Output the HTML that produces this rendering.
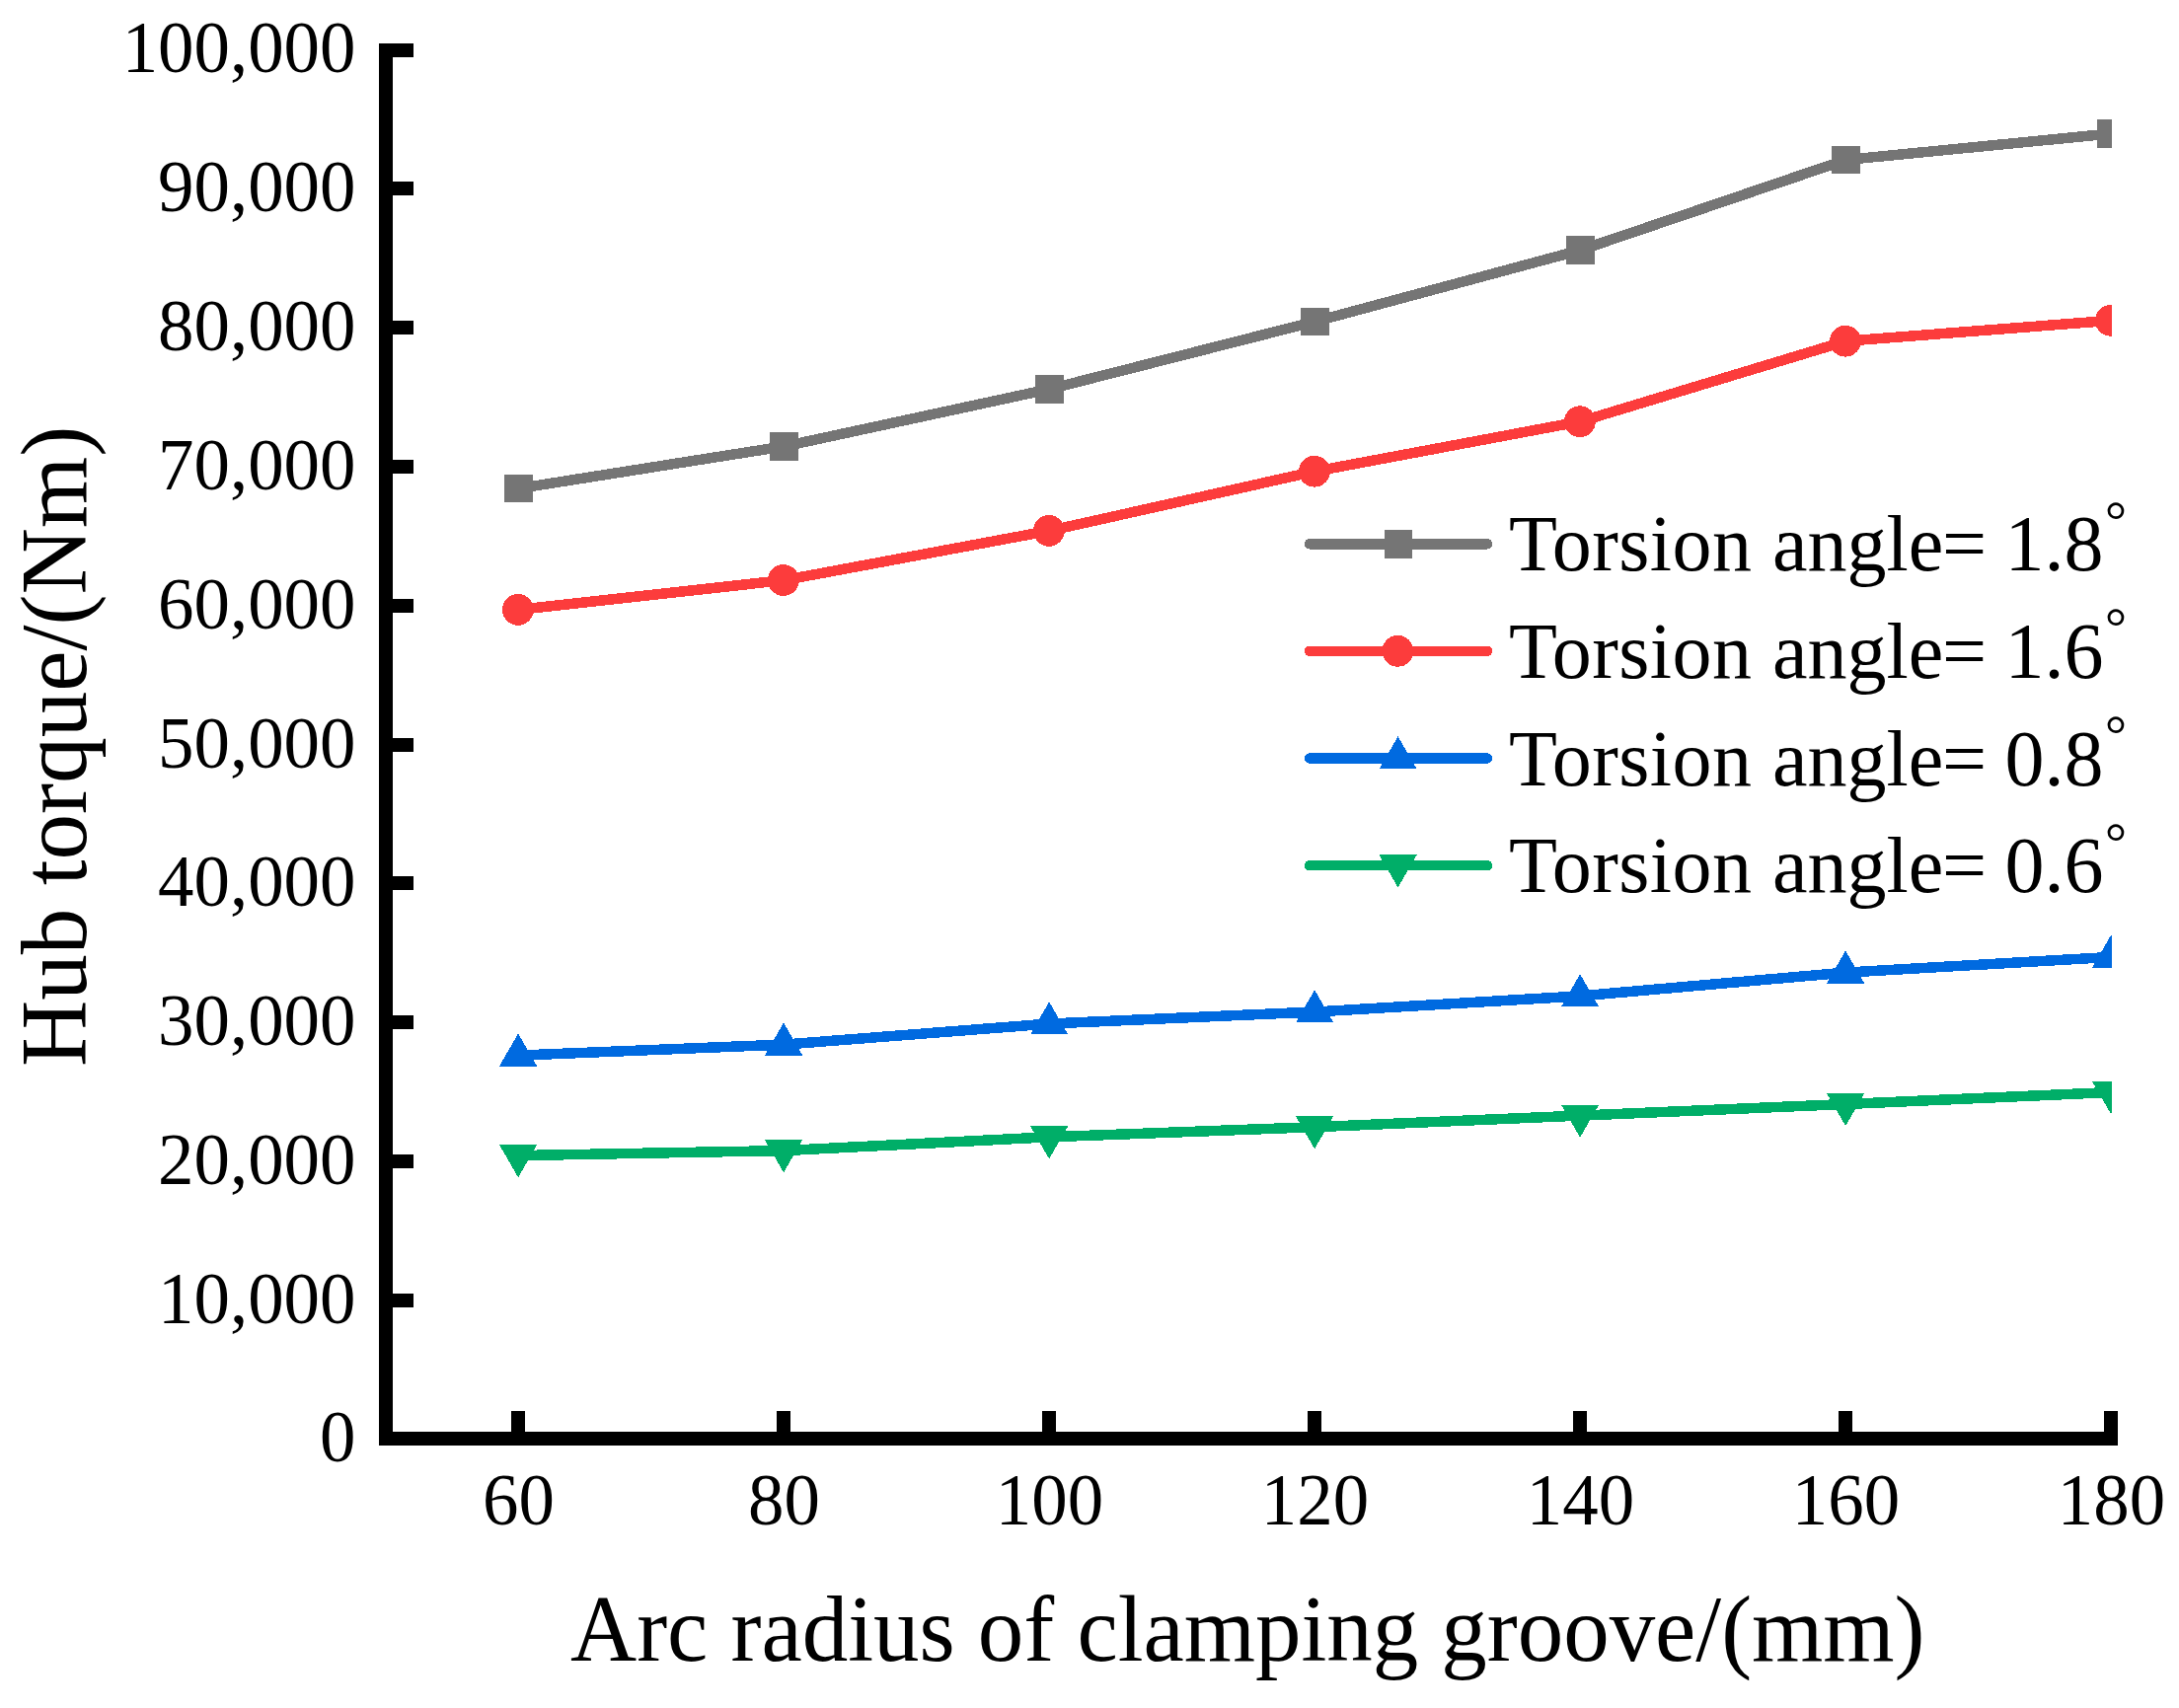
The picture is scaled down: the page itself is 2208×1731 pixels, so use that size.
<!DOCTYPE html>
<html lang="en"><head><meta charset="utf-8"><title>Hub torque vs arc radius of clamping groove</title>
<style>html,body{margin:0;padding:0;background:#fff}svg{display:block}text{font-family:"Liberation Serif","Times New Roman",serif;fill:#000}</style></head><body>
<svg width="2208" height="1731" viewBox="0 0 2208 1731">
<rect width="2208" height="1731" fill="#fff"/>
<defs><clipPath id="plot"><rect x="391" y="44" width="1749" height="1414"/></clipPath></defs>
<g fill="#000" shape-rendering="crispEdges">
<rect x="384" y="44" width="14" height="1421"/>
<rect x="384" y="1451" width="1762" height="14"/>
<rect x="391" y="1311" width="28" height="14"/>
<rect x="391" y="1170" width="28" height="14"/>
<rect x="391" y="1029" width="28" height="14"/>
<rect x="391" y="888" width="28" height="14"/>
<rect x="391" y="748" width="28" height="14"/>
<rect x="391" y="607" width="28" height="14"/>
<rect x="391" y="466" width="28" height="14"/>
<rect x="391" y="325" width="28" height="14"/>
<rect x="391" y="184" width="28" height="14"/>
<rect x="391" y="44" width="28" height="14"/>
<rect x="518" y="1430" width="14" height="28"/>
<rect x="787" y="1430" width="14" height="28"/>
<rect x="1056" y="1430" width="14" height="28"/>
<rect x="1325" y="1430" width="14" height="28"/>
<rect x="1594" y="1430" width="14" height="28"/>
<rect x="1863" y="1430" width="14" height="28"/>
<rect x="2132" y="1430" width="14" height="28"/>
</g>
<g font-size="74" text-anchor="end">
<text transform="translate(360.5,1480.5) scale(0.985,1)">0</text>
<text transform="translate(360.5,1340.5) scale(0.985,1)">10,000</text>
<text transform="translate(360.5,1199.5) scale(0.985,1)">20,000</text>
<text transform="translate(360.5,1058.5) scale(0.985,1)">30,000</text>
<text transform="translate(360.5,917.5) scale(0.985,1)">40,000</text>
<text transform="translate(360.5,777.5) scale(0.985,1)">50,000</text>
<text transform="translate(360.5,636.5) scale(0.985,1)">60,000</text>
<text transform="translate(360.5,495.5) scale(0.985,1)">70,000</text>
<text transform="translate(360.5,354.5) scale(0.985,1)">80,000</text>
<text transform="translate(360.5,213.5) scale(0.985,1)">90,000</text>
<text transform="translate(360.5,73.0) scale(0.985,1)">100,000</text>
</g>
<g font-size="74" text-anchor="middle">
<text transform="translate(525.5,1544.5) scale(0.985,1)">60</text>
<text transform="translate(794.5,1544.5) scale(0.985,1)">80</text>
<text transform="translate(1063.5,1544.5) scale(0.985,1)">100</text>
<text transform="translate(1332.5,1544.5) scale(0.985,1)">120</text>
<text transform="translate(1601.5,1544.5) scale(0.985,1)">140</text>
<text transform="translate(1870.5,1544.5) scale(0.985,1)">160</text>
<text transform="translate(2139.5,1544.5) scale(0.985,1)">180</text>
</g>
<text transform="translate(1264.3,1683) scale(0.978,1)" font-size="95" text-anchor="middle">Arc radius of clamping groove/(mm)</text>
<text transform="translate(86.6,756.4) rotate(-90) scale(0.9806,1)" font-size="95" text-anchor="middle">Hub torque/(Nm)</text>
<g clip-path="url(#plot)" shape-rendering="crispEdges">
<polyline points="525.5,495.0 794.5,452.4 1063.5,394.3 1332.5,325.9 1601.5,253.5 1870.5,162.0 2139.5,135.4" fill="none" stroke="#757575" stroke-width="10.5" stroke-linejoin="round"/>
<rect x="511.2" y="480.7" width="28.6" height="28.6" fill="#757575"/>
<rect x="780.2" y="438.1" width="28.6" height="28.6" fill="#757575"/>
<rect x="1049.2" y="380.0" width="28.6" height="28.6" fill="#757575"/>
<rect x="1318.2" y="311.6" width="28.6" height="28.6" fill="#757575"/>
<rect x="1587.2" y="239.2" width="28.6" height="28.6" fill="#757575"/>
<rect x="1856.2" y="147.7" width="28.6" height="28.6" fill="#757575"/>
<rect x="2125.2" y="121.1" width="28.6" height="28.6" fill="#757575"/>
<polyline points="525.5,617.9 794.5,588.0 1063.5,537.9 1332.5,477.7 1601.5,427.2 1870.5,345.7 2139.5,324.8" fill="none" stroke="#fc3c3c" stroke-width="10.5" stroke-linejoin="round"/>
<circle cx="524.9" cy="617.9" r="15.9" fill="#fc3c3c"/>
<circle cx="793.9" cy="588.0" r="15.9" fill="#fc3c3c"/>
<circle cx="1062.9" cy="537.9" r="15.9" fill="#fc3c3c"/>
<circle cx="1331.9" cy="477.7" r="15.9" fill="#fc3c3c"/>
<circle cx="1600.9" cy="427.2" r="15.9" fill="#fc3c3c"/>
<circle cx="1869.9" cy="345.7" r="15.9" fill="#fc3c3c"/>
<circle cx="2138.9" cy="324.8" r="15.9" fill="#fc3c3c"/>
<polyline points="525.5,1069.6 794.5,1058.6 1063.5,1037.5 1332.5,1025.5 1601.5,1009.4 1870.5,985.6 2139.5,969.9" fill="none" stroke="#006ae0" stroke-width="10.5" stroke-linejoin="round"/>
<polygon points="525.1,1047.4 544.2,1080.5 506.0,1080.5" fill="#006ae0"/>
<polygon points="794.1,1036.4 813.2,1069.5 775.0,1069.5" fill="#006ae0"/>
<polygon points="1063.1,1015.3 1082.2,1048.4 1044.0,1048.4" fill="#006ae0"/>
<polygon points="1332.1,1003.3 1351.2,1036.4 1313.0,1036.4" fill="#006ae0"/>
<polygon points="1601.1,987.2 1620.2,1020.3 1582.0,1020.3" fill="#006ae0"/>
<polygon points="1870.1,963.4 1889.2,996.5 1851.0,996.5" fill="#006ae0"/>
<polygon points="2139.1,947.7 2158.2,980.8 2120.0,980.8" fill="#006ae0"/>
<polyline points="525.5,1171.1 794.5,1166.1 1063.5,1152.3 1332.5,1142.2 1601.5,1130.6 1870.5,1119.0 2139.5,1107.0" fill="none" stroke="#00ae68" stroke-width="10.5" stroke-linejoin="round"/>
<polygon points="525.1,1193.3 544.2,1160.2 506.0,1160.2" fill="#00ae68"/>
<polygon points="794.1,1188.3 813.2,1155.2 775.0,1155.2" fill="#00ae68"/>
<polygon points="1063.1,1174.5 1082.2,1141.4 1044.0,1141.4" fill="#00ae68"/>
<polygon points="1332.1,1164.4 1351.2,1131.3 1313.0,1131.3" fill="#00ae68"/>
<polygon points="1601.1,1152.8 1620.2,1119.7 1582.0,1119.7" fill="#00ae68"/>
<polygon points="1870.1,1141.2 1889.2,1108.1 1851.0,1108.1" fill="#00ae68"/>
<polygon points="2139.1,1129.2 2158.2,1096.1 2120.0,1096.1" fill="#00ae68"/>
</g>
<g shape-rendering="crispEdges">
<line x1="1327" y1="551.3" x2="1507" y2="551.3" stroke="#757575" stroke-width="10.5" stroke-linecap="round"/>
<rect x="1402.7" y="537.0" width="28.6" height="28.6" fill="#757575"/>
<line x1="1327" y1="659.8" x2="1507" y2="659.8" stroke="#fc3c3c" stroke-width="10.5" stroke-linecap="round"/>
<circle cx="1416.4" cy="659.8" r="15.9" fill="#fc3c3c"/>
<line x1="1327" y1="768.5" x2="1507" y2="768.5" stroke="#006ae0" stroke-width="10.5" stroke-linecap="round"/>
<polygon points="1416.6,746.3 1435.7,779.4 1397.5,779.4" fill="#006ae0"/>
<line x1="1327" y1="877.2" x2="1507" y2="877.2" stroke="#00ae68" stroke-width="10.5" stroke-linecap="round"/>
<polygon points="1416.6,899.4 1435.7,866.3 1397.5,866.3" fill="#00ae68"/>
</g>
<g font-size="80">
<text x="1529" y="578.3"><tspan letter-spacing="0.45">Torsion </tspan>angle<tspan dx="-1.2">=</tspan><tspan dx="-1.6"> 1.8</tspan><tspan font-size="55" dy="-32.4" dx="1.6">°</tspan></text>
<text x="1529" y="686.8"><tspan letter-spacing="0.45">Torsion </tspan>angle<tspan dx="-1.2">=</tspan><tspan dx="-1.6"> 1.6</tspan><tspan font-size="55" dy="-32.4" dx="1.6">°</tspan></text>
<text x="1529" y="795.5"><tspan letter-spacing="0.45">Torsion </tspan>angle<tspan dx="-1.2">=</tspan><tspan dx="-1.6"> 0.8</tspan><tspan font-size="55" dy="-32.4" dx="1.6">°</tspan></text>
<text x="1529" y="904.2"><tspan letter-spacing="0.45">Torsion </tspan>angle<tspan dx="-1.2">=</tspan><tspan dx="-1.6"> 0.6</tspan><tspan font-size="55" dy="-32.4" dx="1.6">°</tspan></text>
</g>
</svg></body></html>
